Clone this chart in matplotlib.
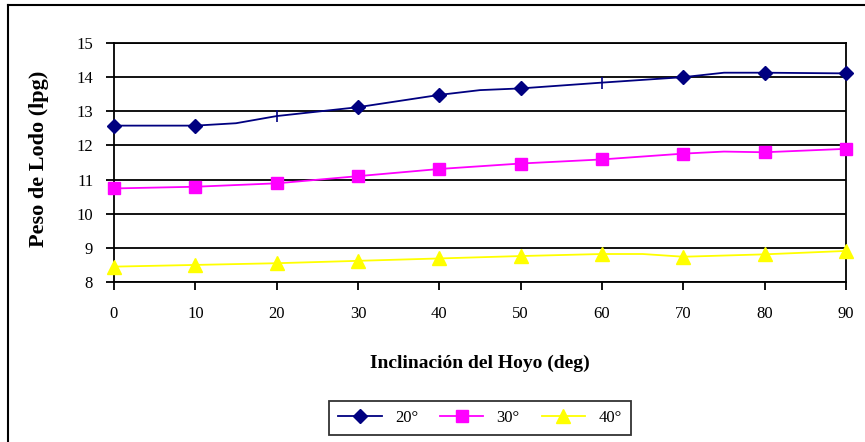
import matplotlib.pyplot as plt
from matplotlib.lines import Line2D

# data
x_20 = [0, 10, 15, 20, 30, 40, 45, 50, 60, 70, 75, 80, 90]
peso_20 = [12.58, 12.58, 12.65, 12.86, 13.12, 13.48, 13.62, 13.67, 13.84, 14.00, 14.13, 14.13, 14.11]

x_30 = [0, 10, 20, 30, 40, 50, 60, 70, 75, 80, 90]
peso_30 = [10.74, 10.79, 10.89, 11.10, 11.31, 11.47, 11.59, 11.76, 11.82, 11.80, 11.90]

x_40 = [0, 10, 20, 30, 40, 50, 60, 65, 70, 80, 90]
peso_40 = [8.45, 8.50, 8.55, 8.62, 8.69, 8.76, 8.82, 8.82, 8.74, 8.81, 8.91]

x_ticks = [0, 10, 20, 30, 40, 50, 60, 70, 80, 90]
y_ticks = [8, 9, 10, 11, 12, 13, 14, 15]
series_labels = ['20°', '30°', '40°']

plt.rcParams['font.family'] = ['Liberation Serif', 'DejaVu Serif']

fig = plt.figure(figsize=(8.65, 4.42), dpi=100)
ax = fig.add_axes([114 / 865, 1 - 282 / 442, 732 / 865, 239 / 442])

navy = '#000080'
magenta = '#FF00FF'
yellow = '#FFFF00'

# 20 deg: markers only on some points, plain ticks on others
ax.plot(x_20, peso_20, color=navy, lw=1.3, zorder=3)
ax.plot(x_20, peso_20, ls='none', marker='D', ms=7, color=navy,
        markevery=[0, 1, 4, 5, 7, 9, 11, 12], zorder=4, clip_on=False)
ax.plot(x_20, peso_20, ls='none', marker='|', ms=9, mew=1.2, color=navy,
        markevery=[3, 8], zorder=4)

ax.plot(x_30, peso_30, color=magenta, lw=1.3, zorder=3)
ax.plot(x_30, peso_30, ls='none', marker='s', ms=8.5, color=magenta,
        markevery=[0, 1, 2, 3, 4, 5, 6, 7, 9, 10], zorder=4, clip_on=False)

ax.plot(x_40, peso_40, color=yellow, lw=1.3, zorder=3)
ax.plot(x_40, peso_40, ls='none', marker='^', ms=9.5, color=yellow,
        markevery=[0, 1, 2, 3, 4, 5, 6, 8, 9, 10], zorder=4, clip_on=False)

ax.set_xlim(0, 90)
ax.set_ylim(8, 15)
ax.set_xticks(x_ticks)
ax.set_yticks(y_ticks)
ax.set_xticklabels([str(v) for v in x_ticks], fontsize=12)
ax.set_yticklabels([str(v) for v in y_ticks], fontsize=12)
ax.tick_params(axis='x', direction='out', length=6, width=1.3, pad=11, colors='black')
ax.tick_params(axis='y', direction='out', length=6, width=1.3, pad=9, colors='black')

ax.yaxis.grid(True, color='black', lw=1.3)
ax.set_axisbelow(True)
for s in ax.spines.values():
    s.set_color('black')
    s.set_linewidth(1.3)

ax.set_xlabel('Inclinación del Hoyo (deg)', fontsize=14, fontweight='bold')
ax.xaxis.set_label_coords(0.5, -0.305)
ax.set_ylabel('Peso de Lodo (lpg)', fontsize=16, fontweight='bold')
ax.yaxis.set_label_coords(-0.089, 0.515)

handles = [
    Line2D([], [], color=navy, lw=1.3, marker='D', ms=7),
    Line2D([], [], color=magenta, lw=1.3, marker='s', ms=8.5),
    Line2D([], [], color=yellow, lw=1.3, marker='^', ms=9.5),
]
leg = fig.legend(handles, series_labels, loc='center', ncol=3,
                 bbox_to_anchor=(480 / 865, 1 - 418 / 442), fontsize=12,
                 frameon=True, fancybox=False, edgecolor='black',
                 handlelength=2.6, columnspacing=1.3, borderpad=0.55)
leg.get_frame().set_linewidth(1.3)

# outer chart border (only top and left show in the crop)
fig.add_artist(Line2D([8 / 865, 8 / 865], [0, 1 - 5 / 442], color='black', lw=1.5,
                      transform=fig.transFigure))
fig.add_artist(Line2D([8 / 865, 1], [1 - 5 / 442, 1 - 5 / 442], color='black', lw=1.5,
                      transform=fig.transFigure))

fig.savefig('out.png', dpi=100)
